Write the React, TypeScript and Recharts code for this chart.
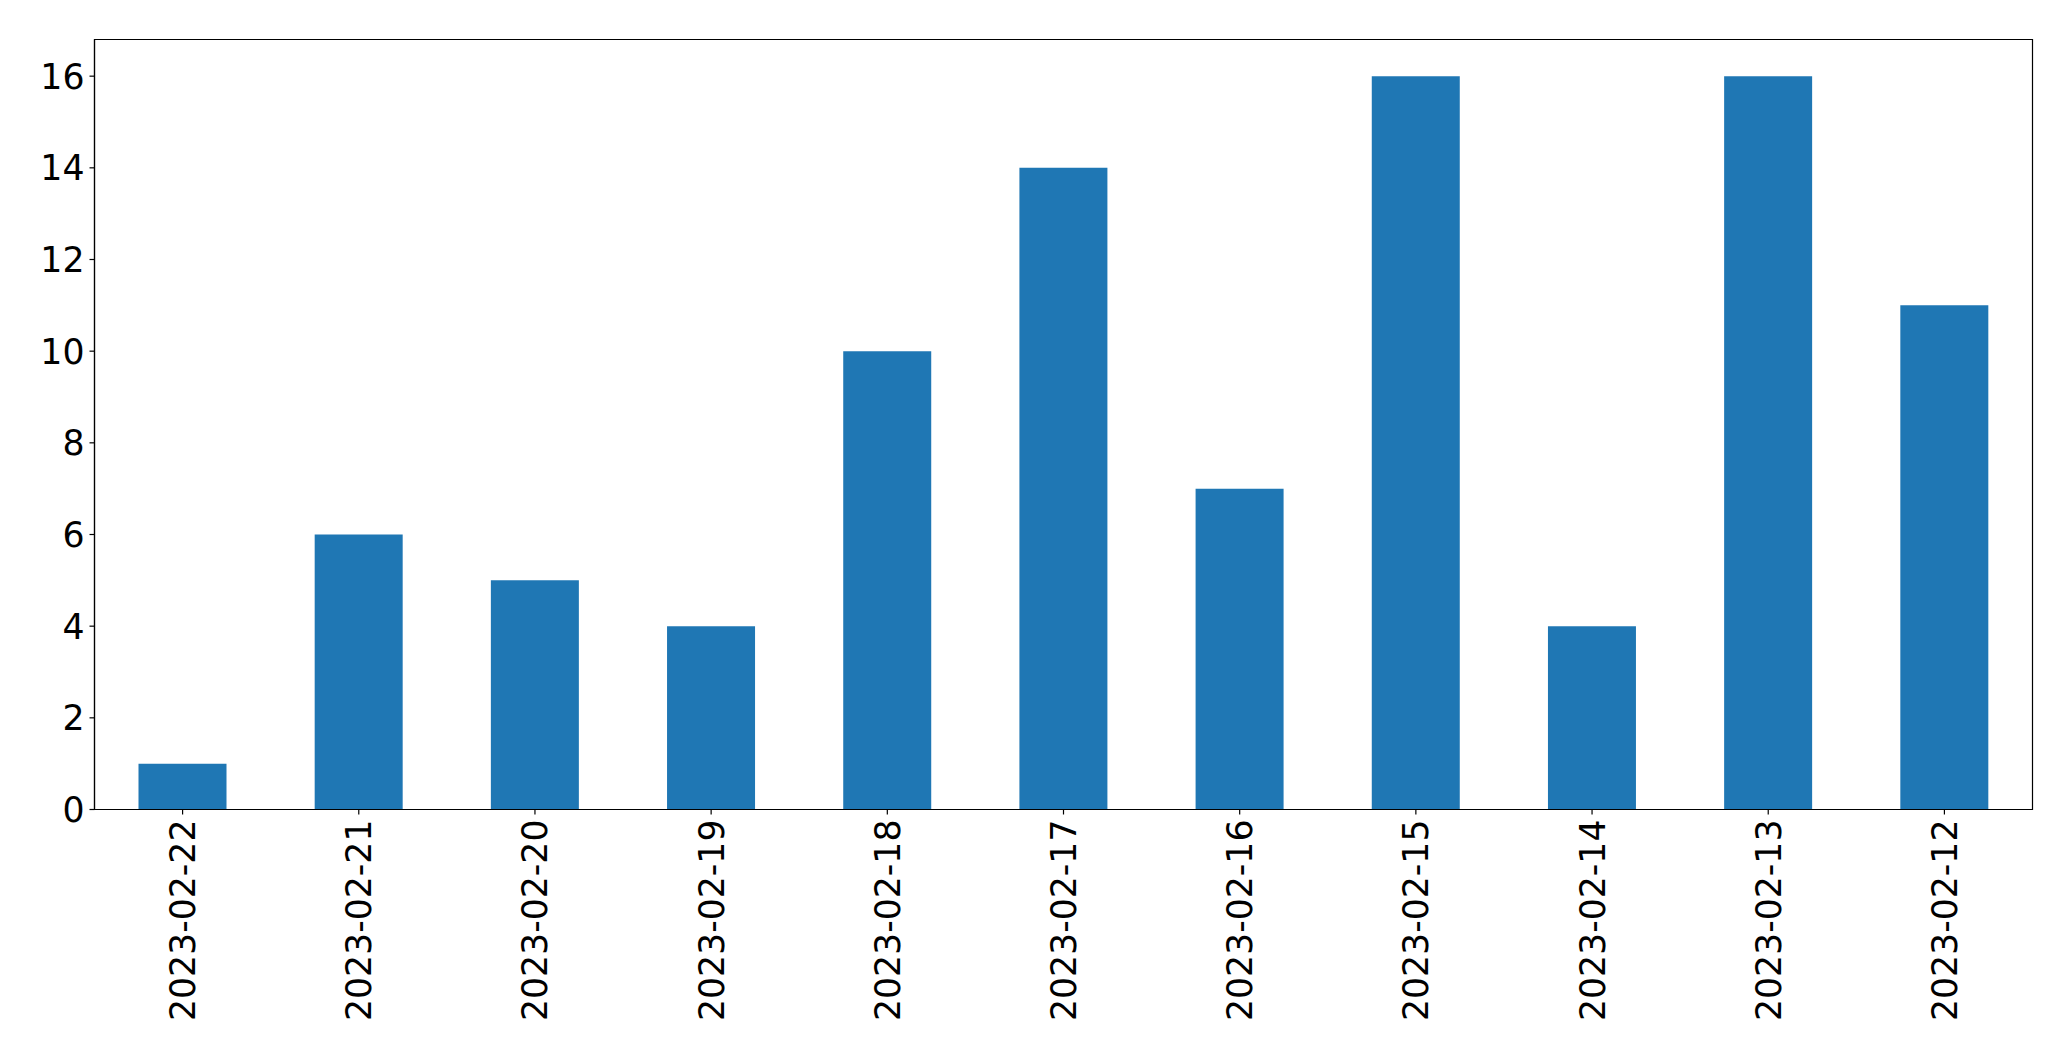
import React from 'react';
import { BarChart, Bar, XAxis, YAxis, ReferenceArea } from 'recharts';

const dates = ['2023-02-22', '2023-02-21', '2023-02-20', '2023-02-19', '2023-02-18', '2023-02-17', '2023-02-16', '2023-02-15', '2023-02-14', '2023-02-13', '2023-02-12'];
const counts = [1, 6, 5, 4, 10, 14, 7, 16, 4, 16, 11];
const yTicks = [0, 2, 4, 6, 8, 10, 12, 14, 16];
const yMax = 16.8;

const data = dates.map((d, i) => ({ date: d, count: counts[i] }));

const FONT = 'DejaVu Sans';
const FS = 34.7;

const XTick = (props: any) => {
  const { x, y, payload } = props;
  return (
    <text
      x={x}
      y={y}
      transform={`rotate(-90, ${x}, ${y})`}
      textAnchor="end"
      dy="0.36em"
      fontFamily={FONT}
      fontSize={FS}
      fill="#000"
    >
      {payload.value}
    </text>
  );
};

const YTick = (props: any) => {
  const { x, y, payload } = props;
  return (
    <text x={x} y={y} textAnchor="end" dy="0.36em" fontFamily={FONT} fontSize={FS} fill="#000">
      {payload.value}
    </text>
  );
};

export default function App() {
  return (
    <div style={{ position: 'absolute', left: 0, top: 0, width: 2071, height: 1061, background: '#fff' }}>
      <BarChart
        width={2071}
        height={1061}
        data={data}
        margin={{ top: 39.5, right: 38.5, bottom: 0, left: 0.5 }}
        barSize={88}
      >
        <XAxis
          dataKey="date"
          height={251.5}
          interval={0}
          tick={<XTick />}
          tickSize={5}
          tickMargin={5}
          tickLine={{ stroke: '#000', strokeWidth: 1.2 }}
          axisLine={{ stroke: '#000', strokeWidth: 1.2 }}
        />
        <YAxis
          width={94}
          domain={[0, yMax]}
          ticks={yTicks}
          interval={0}
          tick={<YTick />}
          tickSize={5}
          tickMargin={5}
          tickLine={{ stroke: '#000', strokeWidth: 1.2 }}
          axisLine={{ stroke: '#000', strokeWidth: 1.2 }}
          allowDataOverflow
        />
        <Bar dataKey="count" fill="#1f77b4" isAnimationActive={false} />
        <ReferenceArea
          y1={0}
          y2={yMax}
          fill="#fff"
          fillOpacity={0}
          stroke="#000"
          strokeWidth={1.2}
          strokeOpacity={1}
          ifOverflow="visible"
        />
      </BarChart>
    </div>
  );
}
